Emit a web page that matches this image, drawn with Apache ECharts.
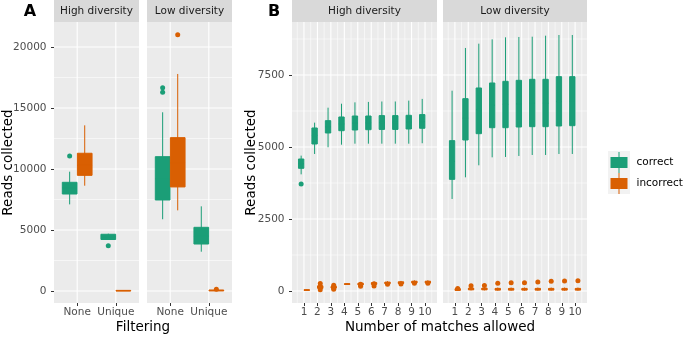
<!DOCTYPE html>
<html>
<head>
<meta charset="utf-8">
<script src="https://cdn.jsdelivr.net/npm/echarts@6/dist/echarts.min.js"></script>
<style>
  html, body { margin: 0; padding: 0; background: #fff; }
  #chart { width: 685px; height: 337px; }
</style>
</head>
<body>
<div id="chart"></div>
<script>
const GREEN = '#1B9E77'
const ORANGE = '#D95F02'
const FONT = 'DejaVu Sans'

// ---- panel A: reads by filtering ----
const filterLevels = ['None', 'Unique']
// each box: [lower whisker, Q1, median, Q3, upper whisker]
const aHighCorrect = [[7100, 7950, 8450, 8910, 9780], [4210, 4220, 4450, 4650, 4700]]
const aHighIncorrect = [[8630, 9480, 10300, 11290, 13580], [0, 0, 20, 50, 80]]
const aLowCorrect = [[5880, 7460, 9200, 11010, 14650], [3220, 3850, 4500, 5220, 6940]]
const aLowIncorrect = [[6610, 8530, 10500, 12570, 17790], [0, 10, 40, 80, 130]]
// outliers: [level number, value]
const aHighCorrectOut = [[1, 11070], [2, 3710]]
const aLowCorrectOut = [[1, 16290], [1, 16670]]
const aLowIncorrectOut = [[1, 21010], [2, 150]]
const aTicks = [0, 5000, 10000, 15000, 20000]
const aMinor = [2500, 7500, 12500, 17500]

// ---- panel B: reads by number of matches allowed ----
const matches = [1, 2, 3, 4, 5, 6, 7, 8, 9, 10]
const bHighCorrect = [
  [4050, 4260, 4420, 4583, 4700], [4757, 5104, 5400, 5660, 5845], [4990, 5486, 5700, 5914, 6365],
  [5080, 5566, 5800, 6042, 6503], [5115, 5590, 5830, 6076, 6550], [5115, 5600, 5840, 6076, 6565],
  [5115, 5610, 5850, 6090, 6580], [5115, 5610, 5850, 6090, 6580], [5115, 5625, 5860, 6100, 6610],
  [5130, 5650, 5880, 6125, 6670]
]
const bHighIncorrect = [
  [10, 20, 30, 45, 60], [60, 90, 130, 180, 230], [80, 100, 130, 160, 190],
  [210, 225, 240, 255, 270], [190, 210, 240, 270, 300], [200, 230, 260, 290, 320],
  [220, 250, 280, 310, 340], [220, 260, 290, 320, 350], [240, 280, 310, 340, 370],
  [240, 280, 310, 340, 370]
]
const bLowCorrect = [
  [3195, 3877, 4500, 5220, 6955], [3947, 5243, 6000, 6678, 8438], [4364, 5462, 6300, 7049, 8588],
  [4641, 5670, 6450, 7222, 8738], [4653, 5670, 6480, 7280, 8808], [4688, 5694, 6500, 7315, 8820],
  [4722, 5705, 6520, 7350, 8830], [4722, 5705, 6520, 7350, 8865], [4757, 5729, 6580, 7442, 8889],
  [4757, 5740, 6590, 7442, 8889]
]
const bLowIncorrect = [
  [0, 20, 50, 80, 120], [20, 40, 70, 100, 140], [20, 40, 70, 100, 140],
  [10, 30, 60, 90, 120], [10, 30, 60, 90, 120], [10, 30, 60, 90, 120],
  [10, 30, 60, 90, 120], [10, 30, 60, 90, 120], [10, 30, 60, 90, 120],
  [10, 30, 60, 90, 120]
]
const bHighCorrectOut = [[1, 3715]]
const bHighIncorrectOut = [
  [2, 40], [2, 150], [2, 260], [3, 60], [3, 120], [3, 200], [5, 165], [5, 230], [6, 175], [6, 250],
  [7, 230], [8, 240], [9, 270], [10, 270]
]
const bLowIncorrectOut = [
  [1, 90], [2, 180], [3, 190], [4, 265], [5, 290], [6, 290], [7, 313], [8, 340], [9, 345], [10, 355]
]
const bTicks = [0, 2500, 5000, 7500]
const bMinor = [1250, 3750, 6250, 8750]
const bMinorX = [0.5, 1.5, 2.5, 3.5, 4.5, 5.5, 6.5, 7.5, 8.5, 9.5, 10.5]

// axis extents (ggplot expansion)
const aX = [0.4, 2.6], aY = [-984, 22050]
const bX = [0.11, 10.89], bY = [-417, 9340]
const aDodge = 0.195, aWidth = 0.38
const bDodge = 0.21, bWidth = 0.4

const panels = [
  { left: 54, width: 85, strip: 'High diversity' },
  { left: 147, width: 85, strip: 'Low diversity' },
  { left: 292, width: 145, strip: 'High diversity' },
  { left: 443, width: 144, strip: 'Low diversity' }
]
const TOP = 22, HEIGHT = 281

const chart = echarts.init(document.getElementById('chart'))

const boxData = (stats, pos, off) => stats.map((s, i) => [pos[i] + off, ...s])
const outData = (pts, off) => pts.map(p => [p[0] + off, p[1]])

function boxRenderer(width, color) {
  return function (params, api) {
    const x = api.value(0)
    const lo = api.coord([x, api.value(1)])
    const q1 = api.coord([x, api.value(2)])
    const md = api.coord([x, api.value(3)])
    const q3 = api.coord([x, api.value(4)])
    const hi = api.coord([x, api.value(5)])
    const l = api.coord([x - width / 2, 0])[0]
    const r = api.coord([x + width / 2, 0])[0]
    return {
      type: 'group',
      children: [
        { type: 'line', shape: { x1: lo[0], y1: lo[1], x2: hi[0], y2: hi[1] }, style: { stroke: color, lineWidth: 1 } },
        { type: 'rect', shape: { x: l, y: q3[1], width: r - l, height: Math.max(q1[1] - q3[1], 0) },
          style: { fill: color, stroke: color, lineWidth: 1 } },
        { type: 'line', shape: { x1: l, y1: md[1], x2: r, y2: md[1] }, style: { stroke: color, lineWidth: 1.2 } }
      ]
    }
  }
}

// grid lines as data: [x, y, vertical?, major?]
function gridLines(xr, yr, hMajor, hMinor, vMajor, vMinor) {
  return [
    ...hMinor.map(v => [xr[0], v, 0, 0]),
    ...vMinor.map(v => [v, yr[0], 1, 0]),
    ...hMajor.map(v => [xr[0], v, 0, 1]),
    ...vMajor.map(v => [v, yr[0], 1, 1])
  ]
}
function gridRenderer(params, api) {
  const cs = params.coordSys
  const p = api.coord([api.value(0), api.value(1)])
  const w = api.value(3) ? 1.1 : 0.55
  const shape = api.value(2)
    ? { x1: p[0], y1: cs.y, x2: p[0], y2: cs.y + cs.height }
    : { x1: cs.x, y1: p[1], x2: cs.x + cs.width, y2: p[1] }
  return { type: 'line', shape, style: { stroke: '#ffffff', lineWidth: w } }
}

function boxSeries(name, idx, data, width, color) {
  return {
    type: 'custom', name, xAxisIndex: idx, yAxisIndex: idx, data,
    renderItem: boxRenderer(width, color), itemStyle: { color },
    encode: { x: 0, y: [1, 2, 3, 4, 5] }, z: 3, silent: true
  }
}
function outSeries(name, idx, data, color) {
  return {
    type: 'scatter', name, xAxisIndex: idx, yAxisIndex: idx, data,
    symbolSize: 5, itemStyle: { color, opacity: 1 }, z: 4, silent: true
  }
}
function gridSeries(idx, data) {
  return {
    type: 'custom', xAxisIndex: idx, yAxisIndex: idx, data,
    renderItem: gridRenderer, encode: { x: 0, y: 1 }, z: 1, silent: true
  }
}

const levelPos = [1, 2]
const series = [
  gridSeries(0, gridLines(aX, aY, aTicks, aMinor, levelPos, [])),
  gridSeries(1, gridLines(aX, aY, aTicks, aMinor, levelPos, [])),
  gridSeries(2, gridLines(bX, bY, bTicks, bMinor, matches, bMinorX)),
  gridSeries(3, gridLines(bX, bY, bTicks, bMinor, matches, bMinorX)),

  boxSeries('correct', 0, boxData(aHighCorrect, levelPos, -aDodge), aWidth, GREEN),
  boxSeries('incorrect', 0, boxData(aHighIncorrect, levelPos, aDodge), aWidth, ORANGE),
  boxSeries('correct', 1, boxData(aLowCorrect, levelPos, -aDodge), aWidth, GREEN),
  boxSeries('incorrect', 1, boxData(aLowIncorrect, levelPos, aDodge), aWidth, ORANGE),
  outSeries('correct', 0, outData(aHighCorrectOut, -aDodge), GREEN),
  outSeries('correct', 1, outData(aLowCorrectOut, -aDodge), GREEN),
  outSeries('incorrect', 1, outData(aLowIncorrectOut, aDodge), ORANGE),

  boxSeries('correct', 2, boxData(bHighCorrect, matches, -bDodge), bWidth, GREEN),
  boxSeries('incorrect', 2, boxData(bHighIncorrect, matches, bDodge), bWidth, ORANGE),
  boxSeries('correct', 3, boxData(bLowCorrect, matches, -bDodge), bWidth, GREEN),
  boxSeries('incorrect', 3, boxData(bLowIncorrect, matches, bDodge), bWidth, ORANGE),
  outSeries('correct', 2, outData(bHighCorrectOut, -bDodge), GREEN),
  outSeries('incorrect', 2, outData(bHighIncorrectOut, bDodge), ORANGE),
  outSeries('incorrect', 3, outData(bLowIncorrectOut, bDodge), ORANGE)
]

const tickStyle = { show: true, length: 3, lineStyle: { color: '#333333', width: 1 } }
const labelStyle = { color: '#4d4d4d', fontSize: 10.5, fontFamily: FONT }

const xAxis = panels.map((p, i) => {
  const isA = i < 2
  const vals = isA ? levelPos : matches
  return {
    type: 'value', gridIndex: i, min: isA ? aX[0] : bX[0], max: isA ? aX[1] : bX[1],
    axisLine: { show: false, onZero: false }, splitLine: { show: false },
    axisTick: { ...tickStyle, customValues: vals },
    axisLabel: { ...labelStyle, margin: 4, customValues: vals,
      formatter: v => isA ? filterLevels[v - 1] : String(v) }
  }
})
const yAxis = panels.map((p, i) => {
  const isA = i < 2
  const first = i === 0 || i === 2
  const vals = isA ? aTicks : bTicks
  return {
    type: 'value', gridIndex: i, min: isA ? aY[0] : bY[0], max: isA ? aY[1] : bY[1],
    axisLine: { show: false, onZero: false }, splitLine: { show: false },
    axisTick: { ...tickStyle, show: first, customValues: vals },
    axisLabel: { ...labelStyle, show: first, margin: 7.5, customValues: vals, formatter: v => String(v) }
  }
})

const TITLE_FONT = '13.5px ' + FONT
const graphic = [
  { type: 'rect', shape: { x: 608, y: 151, width: 22, height: 43 }, style: { fill: '#f2f2f2' }, z: 0 },
  { type: 'text', x: 30, y: 12, style: { text: 'A', font: 'bold 16px ' + FONT, fill: '#000', align: 'center', verticalAlign: 'middle' } },
  { type: 'text', x: 274, y: 12, style: { text: 'B', font: 'bold 16px ' + FONT, fill: '#000', align: 'center', verticalAlign: 'middle' } },
  { type: 'text', x: 8, y: 162.5, rotation: Math.PI / 2,
    style: { text: 'Reads collected', font: TITLE_FONT, fill: '#000', align: 'center', verticalAlign: 'middle' } },
  { type: 'text', x: 251, y: 162.5, rotation: Math.PI / 2,
    style: { text: 'Reads collected', font: TITLE_FONT, fill: '#000', align: 'center', verticalAlign: 'middle' } },
  { type: 'text', x: 143, y: 327,
    style: { text: 'Filtering', font: TITLE_FONT, fill: '#000', align: 'center', verticalAlign: 'middle' } },
  { type: 'text', x: 440, y: 327,
    style: { text: 'Number of matches allowed', font: TITLE_FONT, fill: '#000', align: 'center', verticalAlign: 'middle' } },
  ...panels.flatMap(p => [
    { type: 'rect', shape: { x: p.left, y: 0, width: p.width, height: TOP }, style: { fill: '#d9d9d9' } },
    { type: 'text', x: p.left + p.width / 2, y: TOP / 2 + 0.5,
      style: { text: p.strip, font: '10.5px ' + FONT, fill: '#1a1a1a', align: 'center', verticalAlign: 'middle' } }
  ])
]

const KEY = 'path://M0,5H17V16H0Z M8,0H9V21H8Z'

chart.setOption({
  animation: false,
  backgroundColor: '#ffffff',
  grid: panels.map(p => ({
    left: p.left, top: TOP, width: p.width, height: HEIGHT,
    show: true, backgroundColor: '#ebebeb', borderWidth: 0, outerBoundsMode: 'none'
  })),
  xAxis,
  yAxis,
  legend: {
    orient: 'vertical', left: 610.5, top: 152, padding: 0, itemGap: 0, itemWidth: 17, itemHeight: 21,
    selectedMode: false,
    data: [{ name: 'correct', icon: KEY }, { name: 'incorrect', icon: KEY }],
    textStyle: { color: '#000', fontSize: 10.5, fontFamily: FONT, padding: [0, 0, 0, 4] }
  },
  graphic,
  series
})
window.addEventListener('resize', () => chart.resize())
</script>
</body>
</html>
